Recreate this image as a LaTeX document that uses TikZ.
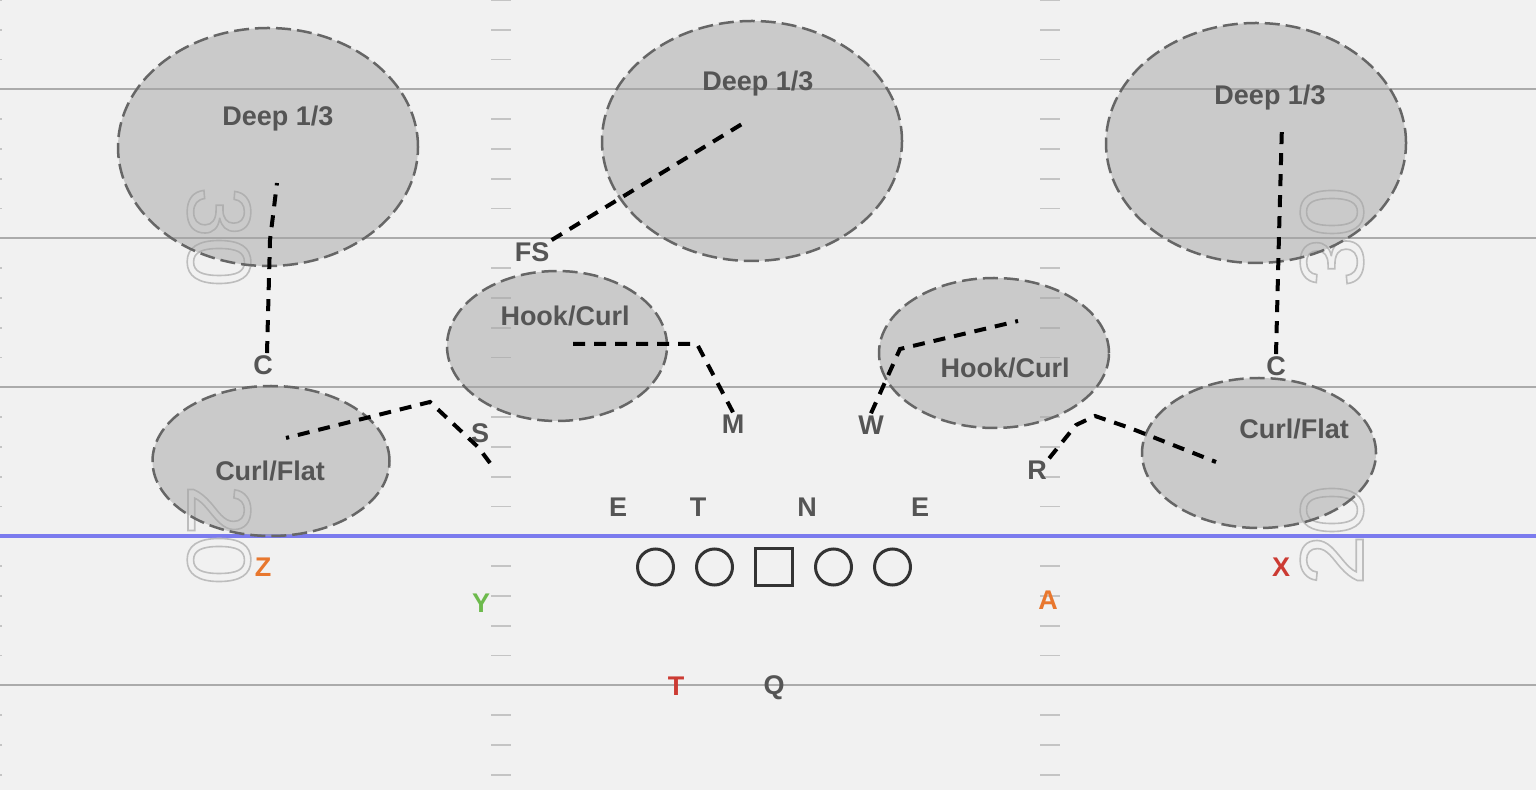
\documentclass[tikz,border=0pt]{standalone}
\usepackage{fontspec}
\setmainfont{Liberation Sans}
\usetikzlibrary{shapes.geometric, positioning}

\definecolor{fieldbg}{HTML}{F1F1F1}
\definecolor{yardline}{HTML}{ABABAB}
\definecolor{hashmark}{HTML}{C4C4C4}
\definecolor{scrimmage}{HTML}{7B7BEE}
\definecolor{zonefill}{HTML}{A5A5A5}
\definecolor{zoneline}{HTML}{666666}
\definecolor{labelgray}{HTML}{555555}
\definecolor{numgray}{HTML}{BDBDBD}
\definecolor{wrorange}{HTML}{E8772E}
\definecolor{tegreen}{HTML}{6DBA4C}
\definecolor{wrred}{HTML}{CC3B33}

\newcommand\outlined[1]{\special{pdf:literal direct 1 Tr 0.8 w}#1\special{pdf:literal direct 0 Tr}}

\begin{document}
\begin{tikzpicture}[x=0.5pt, y=-0.5pt,
  zone/.style={ellipse, draw=zoneline, fill=zonefill, fill opacity=0.5,
    line width=1.25pt, dash pattern=on 7.5pt off 3pt, inner sep=0pt},
  player/.style={font=\fontsize{13.5}{16}\selectfont\bfseries, text=labelgray, inner sep=1pt},
  route/.style={draw=black, line width=2pt, dash pattern=on 6pt off 4.5pt},
  lineman/.style={draw=black!80, line width=1.5pt, circle, minimum size=18pt, inner sep=0pt},
  snapper/.style={draw=black!80, line width=1.5pt, rectangle, minimum size=18.5pt, inner sep=0pt},
  yardnum/.style={font=\fontsize{45}{45}\selectfont, text=numgray, inner sep=0pt}]

  \fill[fieldbg] (0,0) rectangle (1536,790);
  \useasboundingbox (0,0) rectangle (1536,790);

  \foreach \y in {89,238,387,685}
    \draw[yardline, line width=1.25pt] (0,\y) -- (1536,\y);
  \foreach \k in {0,1,2,4,5,6,7,9,10,11,12,14,15,16,17,19,20,21,22,24,25,26} {
    \draw[hashmark, line width=0.8pt] (0,29.8*\k) -- (1.5,29.8*\k);
    \draw[hashmark, line width=0.8pt] (491,29.8*\k) -- (511,29.8*\k);
    \draw[hashmark, line width=0.8pt] (1040,29.8*\k) -- (1060,29.8*\k);
  }
  \draw[scrimmage, line width=2pt] (0,536) -- (1536,536);

  \node[yardnum, rotate=-90] (num30L) at (219,237) {\outlined{30}};
  \node[yardnum, rotate=-90] (num20L) at (219,535) {\outlined{20}};
  \node[yardnum, rotate=90] (num30R) at (1332,237) {\outlined{30}};
  \node[yardnum, rotate=90] (num20R) at (1332,535) {\outlined{20}};

  \node[zone, minimum width=150pt, minimum height=119pt] (deepL) at (268,147) {};
  \node[zone, minimum width=150pt, minimum height=120pt] (deepM) at (752,141) {};
  \node[zone, minimum width=150pt, minimum height=120pt] (deepR) at (1256,143) {};
  \node[zone, minimum width=110pt, minimum height=75pt] (hookL) at (557,346) {};
  \node[zone, minimum width=115pt, minimum height=75pt] (hookR) at (994,353) {};
  \node[zone, minimum width=118.5pt, minimum height=75pt] (flatL) at (271,461) {};
  \node[zone, minimum width=117pt, minimum height=75pt] (flatR) at (1259,453) {};

  \node[player] (deepLtxt) at (278,119) {Deep 1/3};
  \node[player] (deepMtxt) at (758,84) {Deep 1/3};
  \node[player] (deepRtxt) at (1270,98) {Deep 1/3};
  \node[player] (hookLtxt) at (565,316) {Hook/Curl};
  \node[player] (hookRtxt) at (1005,368) {Hook/Curl};
  \node[player] (flatLtxt) at (270,471) {Curl/Flat};
  \node[player] (flatRtxt) at (1294,429) {Curl/Flat};

  \node[player] (CL) at (263,365) {C};
  \node[player] (CR) at (1276,366) {C};
  \node[player] (FS) at (532,252) {FS};
  \node[player] (S) at (480,433) {S};
  \node[player] (M) at (733,424) {M};
  \node[player] (W) at (871,425) {W};
  \node[player] (R) at (1037,470) {R};
  \node[player] (DE1) at (618,507) {E};
  \node[player] (DT) at (698,507) {T};
  \node[player] (NT) at (807,507) {N};
  \node[player] (DE2) at (920,507) {E};

  \coordinate (Sdrop) at (490,463);

  \draw[route] ([xshift=2pt]CL.north) -- (270,240) -- (277,183);
  \draw[route] (FS.north east) -- (742,124);
  \draw[route] (Sdrop) -- (478,447) -- (430,402) -- (286,438);
  \draw[route] (M.north) -- (697,344) -- (572,344);
  \draw[route] (W.north) -- (900,349) -- (1018,321);
  \draw[route] (R.north east) -- (1076,425) -- (1095,416) -- (1130,428) -- (1216,462);
  \draw[route] (CR.north) -- (1279,235) -- (1282,124);

  \node[snapper] (ball) at (774,567) {};
  \node[lineman, left=10pt of ball] (LG) {};
  \node[lineman, left=10pt of LG] (LT) {};
  \node[lineman, right=10pt of ball] (RG) {};
  \node[lineman, right=10pt of RG] (RT) {};

  \node[player, text=wrorange] (Z) at (263,567) {Z};
  \node[player, text=tegreen] (Y) at (481,603) {Y};
  \node[player, text=wrorange] (A) at (1048,600) {A};
  \node[player, text=wrred] (X) at (1281,567) {X};
  \node[player, text=wrred] (TB) at (676,686) {T};
  \node[player] (Q) at (774,688) {Q};
\end{tikzpicture}
\end{document}
